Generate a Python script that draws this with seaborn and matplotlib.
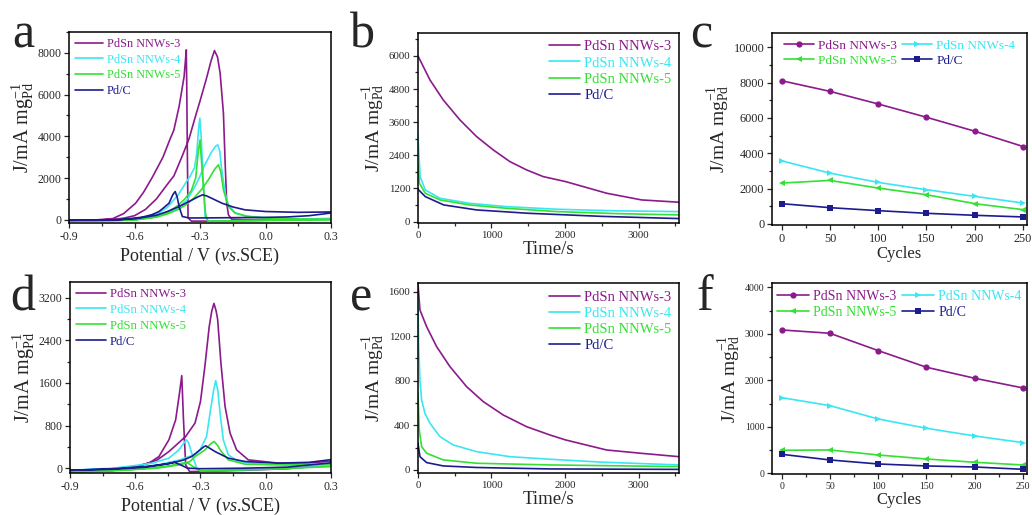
import pandas as pd
import matplotlib
matplotlib.use('Agg')
import matplotlib.pyplot as plt
from matplotlib.ticker import MultipleLocator
import seaborn as sns

sns.set_style('ticks')
plt.rcParams['font.family'] = 'serif'
plt.rcParams['font.serif'] = ['Liberation Serif', 'DejaVu Serif']
plt.rcParams['mathtext.fontset'] = 'custom'
plt.rcParams['mathtext.rm'] = 'Liberation Serif'
plt.rcParams['mathtext.it'] = 'Liberation Serif:italic'

SAMPLES = ['PdSn NNWs-3', 'PdSn NNWs-4', 'PdSn NNWs-5', 'Pd/C']
COLORS = ['#8b1a8b', '#3ae6f2', '#33e033', '#1c1c8e']
MARKERS = ['o', '>', '<', 's']
YLABEL = r'J/mA mg$_{\rm Pd}^{-1}$'

# ---- (a) CV, first scan: (V, J) loop, forward then backward ----
A_NNW3 = [(-0.9, -30), (-0.8, -20), (-0.7, 20), (-0.65, 80), (-0.6, 200), (-0.55, 500),
          (-0.5, 1000), (-0.45, 1700), (-0.42, 2100), (-0.38, 3100), (-0.35, 3900), (-0.32, 5000),
          (-0.3, 5700), (-0.27, 6800), (-0.25, 7600), (-0.234, 8110), (-0.22, 7800), (-0.208, 7027),
          (-0.193, 5110), (-0.185, 2716), (-0.178, 800), (-0.17, 240), (-0.155, 30), (-0.1, 10),
          (0.0, 20), (0.15, 40), (0.3, 60),
          (0.3, 40), (0.1, 0), (-0.1, -40), (-0.25, -60), (-0.34, -60), (-0.355, 100),
          (-0.358, 3000), (-0.361, 6500), (-0.363, 8143), (-0.368, 7500), (-0.373, 6866),
          (-0.396, 5430), (-0.42, 4300), (-0.44, 3800), (-0.47, 3000), (-0.518, 2050),
          (-0.56, 1300), (-0.595, 800), (-0.65, 300), (-0.7, 60), (-0.8, -20), (-0.9, -30)]
A_NNW4 = [(-0.9, -40), (-0.7, -30), (-0.6, 0), (-0.5, 200), (-0.45, 350), (-0.4, 550),
          (-0.36, 950), (-0.323, 1600), (-0.3, 2100), (-0.28, 2600), (-0.25, 3200), (-0.23, 3520),
          (-0.219, 3593), (-0.21, 3300), (-0.2005, 2395), (-0.185, 1277), (-0.17, 718),
          (-0.14, 350), (-0.094, 190), (0.0, 90), (0.15, 50), (0.3, 40),
          (0.3, 20), (0.0, -20), (-0.2, -50), (-0.26, -60), (-0.277, 160), (-0.285, 1800),
          (-0.295, 4000), (-0.301, 4872), (-0.308, 4200), (-0.315, 3200), (-0.325, 2500),
          (-0.345, 2100), (-0.37, 1700), (-0.4, 1200), (-0.45, 600), (-0.5, 260), (-0.6, 40),
          (-0.7, -20), (-0.9, -40)]
A_NNW5 = [(-0.9, -50), (-0.7, -40), (-0.6, -10), (-0.5, 130), (-0.45, 280), (-0.4, 500),
          (-0.36, 750), (-0.323, 1100), (-0.29, 1500), (-0.26, 1950), (-0.235, 2400),
          (-0.216, 2635), (-0.205, 2300), (-0.193, 1437), (-0.17, 639), (-0.14, 320),
          (-0.079, 160), (0.0, 80), (0.15, 40), (0.3, 30),
          (0.3, 0), (0.0, -30), (-0.2, -50), (-0.265, -60), (-0.275, 300), (-0.288, 2000),
          (-0.3, 3832), (-0.308, 3300), (-0.32, 2000), (-0.34, 1400), (-0.37, 1000), (-0.4, 700),
          (-0.45, 350), (-0.5, 150), (-0.6, 0), (-0.9, -50)]
A_PDC = [(-0.9, -20), (-0.7, 0), (-0.6, 50), (-0.5, 220), (-0.45, 400), (-0.4, 620),
         (-0.35, 880), (-0.31, 1100), (-0.289, 1198), (-0.27, 1150), (-0.24, 1000), (-0.2, 800),
         (-0.15, 620), (-0.094, 480), (0.0, 400), (0.15, 360), (0.3, 380),
         (0.3, 330), (0.2, 200), (0.1, 140), (0.0, 120), (-0.2, 100), (-0.35, 90), (-0.381, 160),
         (-0.395, 600), (-0.405, 1100), (-0.414, 1357), (-0.425, 1200), (-0.442, 800),
         (-0.47, 550), (-0.488, 400), (-0.52, 250), (-0.564, 130), (-0.67, 0), (-0.9, -20)]

# ---- (d) CV, after cycling ----
D_NNW3 = [(-0.9, -50), (-0.7, -20), (-0.6, 20), (-0.5, 150), (-0.445, 312), (-0.368, 595),
          (-0.325, 847), (-0.3, 1250), (-0.28, 1900), (-0.26, 2650), (-0.248, 2950),
          (-0.238, 3092), (-0.228, 2950), (-0.221, 2791), (-0.206, 1976), (-0.187, 1160),
          (-0.164, 659), (-0.134, 344), (-0.08, 156), (0.06, 94), (0.2, 100), (0.3, 130),
          (0.3, 60), (0.1, -10), (-0.1, -40), (-0.3, -60), (-0.35, -64), (-0.368, 62),
          (-0.378, 900), (-0.386, 1737), (-0.395, 1450), (-0.414, 909), (-0.445, 533),
          (-0.491, 218), (-0.537, 94), (-0.6, 30), (-0.7, -20), (-0.9, -50)]
D_NNW4 = [(-0.9, -40), (-0.7, -10), (-0.6, 10), (-0.5, 60), (-0.4, 150), (-0.35, 220),
          (-0.325, 250), (-0.302, 344), (-0.272, 595), (-0.256, 1035), (-0.24, 1450),
          (-0.23, 1643), (-0.22, 1450), (-0.21, 1035), (-0.195, 533), (-0.172, 250),
          (-0.126, 125), (0.0, 70), (0.3, 60),
          (0.3, 40), (0.0, -20), (-0.2, -40), (-0.3, -50), (-0.317, 0), (-0.338, 250),
          (-0.355, 480), (-0.365, 533), (-0.38, 450), (-0.399, 344), (-0.445, 188),
          (-0.522, 94), (-0.6, 50), (-0.7, 0), (-0.9, -40)]
D_NNW5 = [(-0.9, -70), (-0.7, -40), (-0.6, -20), (-0.45, 40), (-0.35, 120), (-0.325, 218),
          (-0.279, 344), (-0.255, 450), (-0.237, 501), (-0.22, 420), (-0.21, 344),
          (-0.172, 156), (-0.095, 75), (0.1, 60), (0.3, 80),
          (0.3, 30), (0.0, -20), (-0.2, -40), (-0.3, -50), (-0.33, 20), (-0.36, 100),
          (-0.4, 60), (-0.5, 0), (-0.7, -50), (-0.9, -80)]
D_PDC = [(-0.9, -40), (-0.7, -10), (-0.55, 30), (-0.45, 80), (-0.38, 150), (-0.34, 220),
         (-0.302, 344), (-0.285, 400), (-0.276, 420), (-0.26, 380), (-0.233, 312),
         (-0.172, 188), (-0.095, 125), (0.06, 94), (0.2, 110), (0.3, 160),
         (0.3, 100), (0.1, 20), (-0.1, 0), (-0.3, -10), (-0.36, 0), (-0.39, 60), (-0.42, 110),
         (-0.46, 80), (-0.55, 20), (-0.7, -20), (-0.9, -40)]

# ---- (b) chronoamperometry, first test: (t, J) ----
B_NNW3 = [(0, 6000), (163, 5130), (344, 4405), (571, 3681), (798, 3077), (1024, 2596),
          (1251, 2172), (1478, 1871), (1704, 1629), (2009, 1448), (2566, 1028), (3042, 785),
          (3550, 702)]
B_NNW4 = [(0, 3139), (15, 2353), (30, 1630), (100, 1147), (300, 845), (700, 664), (1200, 543),
          (1900, 447), (2700, 390), (3550, 362)]
B_NNW5 = [(0, 2113), (20, 1387), (100, 1025), (300, 785), (700, 604), (1200, 483), (1900, 362),
          (2700, 290), (3550, 243)]
B_PDC = [(0, 1173), (100, 905), (350, 604), (800, 422), (1500, 302), (2500, 190), (3550, 110)]

# ---- (e) chronoamperometry, after cycling ----
E_NNW3 = [(0, 1675), (27, 1435), (118, 1285), (254, 1106), (435, 927), (662, 747), (888, 613),
          (1160, 493), (1478, 388), (1794, 314), (2009, 269), (2566, 179), (3042, 149),
          (3550, 119)]
E_NNW4 = [(0, 1525), (10, 1106), (27, 807), (50, 628), (95, 508), (163, 419), (299, 299),
          (480, 224), (798, 164), (1251, 119), (1794, 96), (2500, 70), (3550, 45)]
E_NNW5 = [(0, 688), (18, 359), (50, 209), (118, 150), (344, 90), (798, 60), (1794, 45),
          (3550, 30)]
E_PDC = [(0, 239), (27, 119), (118, 66), (344, 36), (798, 22), (1794, 9), (3550, 5)]

# ---- (c), (f) stability vs cycles ----
CYCLES = [0, 50, 100, 150, 200, 250]
C_NNW3 = [8102, 7500, 6786, 6034, 5244, 4380]
C_NNW4 = [3571, 2876, 2350, 1936, 1560, 1184]
C_NNW5 = [2312, 2462, 2030, 1654, 1147, 808]
C_PDC = [1147, 921, 752, 602, 489, 395]
F_NNW3 = [3082, 3011, 2638, 2280, 2043, 1835]
F_NNW4 = [1627, 1455, 1168, 968, 803, 659]
F_NNW5 = [495, 502, 394, 308, 237, 179]
F_PDC = [409, 287, 201, 158, 136, 86]


def curve_frame(curves):
    rows = []
    for name, pts in zip(SAMPLES, curves):
        for x, y in pts:
            rows.append({'x': x, 'y': y, 'sample': name})
    return pd.DataFrame(rows)


def cycle_frame(series):
    rows = []
    for name, vals in zip(SAMPLES, series):
        for x, y in zip(CYCLES, vals):
            rows.append({'x': x, 'y': y, 'sample': name})
    return pd.DataFrame(rows)


def style_axis(ax, tick_fs):
    for sp in ax.spines.values():
        sp.set_visible(True)
        sp.set_linewidth(1.1)
        sp.set_color('black')
    ax.tick_params(which='both', direction='out', top=False, right=False,
                   labelsize=tick_fs, width=0.9, pad=2)
    ax.tick_params(which='major', length=3.5)
    ax.tick_params(which='minor', length=2)


def color_legend(ax, fs, order=(0, 1, 2, 3), **kw):
    handles, labels = ax.get_legend_handles_labels()
    handles = [handles[i] for i in order]
    labels = [labels[i] for i in order]
    leg = ax.legend(handles, labels, frameon=False, fontsize=fs, handletextpad=0.3,
                    borderaxespad=0.3, borderpad=0.2, **kw)
    for txt, i in zip(leg.get_texts(), order):
        txt.set_color(COLORS[i])
    return leg


palette = dict(zip(SAMPLES, COLORS))
fig = plt.figure(figsize=(10.32, 5.15), dpi=100)

# panel rectangles in figure fractions
ax_a = fig.add_axes([0.0669, 0.567, 0.2539, 0.3709])
ax_b = fig.add_axes([0.4050, 0.567, 0.2529, 0.3690])
ax_c = fig.add_axes([0.7480, 0.5631, 0.2471, 0.3728])
ax_d = fig.add_axes([0.0678, 0.0816, 0.2529, 0.3715])
ax_e = fig.add_axes([0.4050, 0.0810, 0.2529, 0.3690])
ax_f = fig.add_axes([0.7480, 0.0796, 0.2471, 0.3703])

# --- CV panels ---
for ax, curves, ylim, ymaj, ymin, tfs, lfs in [
        (ax_a, [A_NNW3, A_NNW4, A_NNW5, A_PDC], (-150, 9000), 2000, 1000, 8.5, 8.8),
        (ax_d, [D_NNW3, D_NNW4, D_NNW5, D_PDC], (-90, 3500), 800, 400, 8.5, 9.2)]:
    sns.lineplot(data=curve_frame(curves), x='x', y='y', hue='sample', hue_order=SAMPLES,
                 palette=palette, sort=False, estimator=None, lw=1.2, ax=ax)
    ax.set_xlim(-0.9, 0.3)
    ax.set_ylim(*ylim)
    ax.xaxis.set_minor_locator(MultipleLocator(0.15))
    ax.yaxis.set_major_locator(MultipleLocator(ymaj))
    ax.yaxis.set_minor_locator(MultipleLocator(ymin))
    ax.set_xticks([-0.9, -0.6, -0.3, 0.0, 0.3])
    ax.set_xticklabels(['-0.9', '-0.6', '-0.3', '0.0', '0.3'])
    ax.set_xlabel(r'Potential / V ($\it{vs}$.SCE)', fontsize=13, labelpad=2)
    ax.set_ylabel(YLABEL, fontsize=14.5, labelpad=1)
    style_axis(ax, tfs)
    color_legend(ax, lfs, loc='upper left', labelspacing=0.3, handlelength=2.3)

# --- chronoamperometry panels ---
for ax, curves, ylim, ymaj, ymin, lfs in [
        (ax_b, [B_NNW3, B_NNW4, B_NNW5, B_PDC], (-50, 6830), 1200, 600, 10.5),
        (ax_e, [E_NNW3, E_NNW4, E_NNW5, E_PDC], (-30, 1675), 400, 200, 10.5)]:
    sns.lineplot(data=curve_frame(curves), x='x', y='y', hue='sample', hue_order=SAMPLES,
                 palette=palette, sort=False, estimator=None, lw=1.2, ax=ax)
    ax.set_xlim(0, 3550)
    ax.set_ylim(*ylim)
    ax.xaxis.set_major_locator(MultipleLocator(1000))
    ax.xaxis.set_minor_locator(MultipleLocator(500))
    ax.yaxis.set_major_locator(MultipleLocator(ymaj))
    ax.yaxis.set_minor_locator(MultipleLocator(ymin))
    ax.set_xlabel('Time/s', fontsize=13.5, labelpad=1)
    ax.set_ylabel(YLABEL, fontsize=14, labelpad=1)
    style_axis(ax, 7.8)
    color_legend(ax, lfs, loc='upper right', labelspacing=0.2, handlelength=2.1)

# --- cycling panels ---
for ax, series, ylim, ymaj, ymin, tfs, lfs in [
        (ax_c, [C_NNW3, C_NNW4, C_NNW5, C_PDC], (-60, 10800), 2000, 1000, 8.8, 9.5),
        (ax_f, [F_NNW3, F_NNW4, F_NNW5, F_PDC], (-15, 4085), 1000, 500, 7.0, 10.0)]:
    sns.lineplot(data=cycle_frame(series), x='x', y='y', hue='sample', hue_order=SAMPLES,
                 palette=palette, style='sample', style_order=SAMPLES,
                 markers=dict(zip(SAMPLES, MARKERS)), dashes=False, markersize=4.5,
                 markeredgewidth=0, lw=1.2, ax=ax)
    ax.set_xlim(-10, 254)
    ax.set_ylim(*ylim)
    ax.xaxis.set_major_locator(MultipleLocator(50))
    ax.xaxis.set_minor_locator(MultipleLocator(25))
    ax.yaxis.set_major_locator(MultipleLocator(ymaj))
    ax.yaxis.set_minor_locator(MultipleLocator(ymin))
    ax.set_xlabel('Cycles', fontsize=12, labelpad=1)
    ax.set_ylabel(YLABEL, fontsize=14, labelpad=1)
    style_axis(ax, tfs)
    # row-wise order: NNWs-3, NNWs-4 / NNWs-5, Pd/C
    color_legend(ax, lfs, order=(0, 2, 1, 3), loc='upper center', ncol=2,
                 labelspacing=0.2, handlelength=2.3, columnspacing=0.4)

# panel letters
for letter, x, y in [('a', 0.012, 0.907), ('b', 0.339, 0.907), ('c', 0.669, 0.907),
                     ('d', 0.010, 0.398), ('e', 0.339, 0.398), ('f', 0.675, 0.398)]:
    fig.text(x, y, letter, fontsize=36, va='baseline', ha='left')

fig.savefig('out.png', dpi=100)
